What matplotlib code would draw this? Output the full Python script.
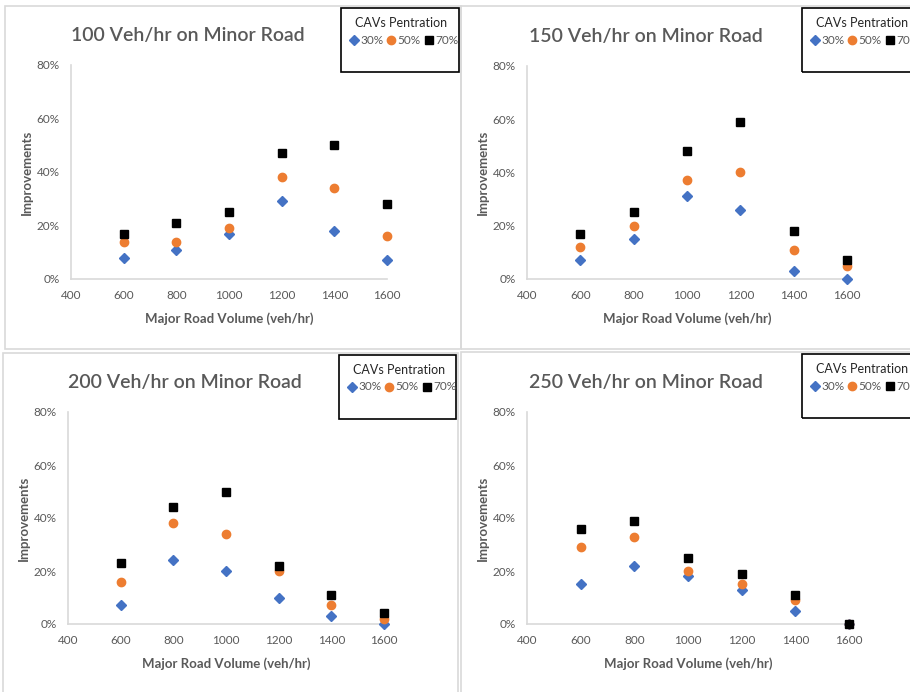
import matplotlib
matplotlib.use("Agg")
import matplotlib.pyplot as plt
from matplotlib.patches import Rectangle
from matplotlib.lines import Line2D
from matplotlib.ticker import PercentFormatter

plt.rcParams['font.family'] = ['Lato', 'DejaVu Sans']

W, H = 910, 692

volumes = [600, 800, 1000, 1200, 1400, 1600]
minor_flows = [100, 150, 200, 250]
pen_labels = ["30%", "50%", "70%"]

imp_100_30 = [0.08, 0.11, 0.17, 0.29, 0.18, 0.07]
imp_100_50 = [0.14, 0.14, 0.19, 0.38, 0.34, 0.16]
imp_100_70 = [0.17, 0.21, 0.25, 0.47, 0.50, 0.28]

imp_150_30 = [0.07, 0.15, 0.31, 0.26, 0.03, 0.00]
imp_150_50 = [0.12, 0.20, 0.37, 0.40, 0.11, 0.05]
imp_150_70 = [0.17, 0.25, 0.48, 0.59, 0.18, 0.07]

imp_200_30 = [0.07, 0.24, 0.20, 0.10, 0.03, 0.00]
imp_200_50 = [0.16, 0.38, 0.34, 0.20, 0.07, 0.02]
imp_200_70 = [0.23, 0.44, 0.50, 0.22, 0.11, 0.04]

imp_250_30 = [0.15, 0.22, 0.18, 0.13, 0.05, 0.00]
imp_250_50 = [0.29, 0.33, 0.20, 0.15, 0.09, 0.00]
imp_250_70 = [0.36, 0.39, 0.25, 0.19, 0.11, 0.00]

series = {
    100: [imp_100_30, imp_100_50, imp_100_70],
    150: [imp_150_30, imp_150_50, imp_150_70],
    200: [imp_200_30, imp_200_50, imp_200_70],
    250: [imp_250_30, imp_250_50, imp_250_70],
}

colors = ["#4472C4", "#ED7D31", "#000000"]
markers = ["D", "o", "s"]
msizes = [5.2, 6.0, 5.2]
grey = "#595959"

# pixel layout: panel border, plot area, legend box (left, top, right, bottom)
layout = {
    100: dict(panel=(5, 6, 461, 349), plot=(71, 65, 387, 279), leg=(341, 8, 459, 72)),
    150: dict(panel=(461, 6, 912, 349), plot=(527, 66, 847, 279), leg=(802, 8, 920, 72)),
    200: dict(panel=(3, 353, 458, 695), plot=(68, 412, 384, 624), leg=(339, 355, 456, 419)),
    250: dict(panel=(461, 352, 912, 695), plot=(527, 412, 849, 624), leg=(802, 354, 920, 418)),
}


def fx(px):
    return px / W


def fy(py):
    return 1 - py / H


fig = plt.figure(figsize=(W / 100, H / 100), dpi=100)

for flow in minor_flows:
    lay = layout[flow]
    l, t, r, b = lay["panel"]
    fig.patches.append(Rectangle((fx(l), fy(b)), fx(r - l), (b - t) / H,
                                 transform=fig.transFigure, fill=False,
                                 edgecolor="#D9D9D9", linewidth=1.2))

    l, t, r, b = lay["plot"]
    ax = fig.add_axes([fx(l), fy(b), fx(r - l), (b - t) / H])
    for vals, c, m, s in zip(series[flow], colors, markers, msizes):
        ax.plot(volumes, vals, linestyle="none", marker=m, color=c,
                markersize=s, clip_on=False, zorder=3)
    ax.set_xlim(400, 1600)
    ax.set_ylim(0, 0.8)
    ax.set_xticks(range(400, 1601, 200))
    ax.set_yticks([0, 0.2, 0.4, 0.6, 0.8])
    ax.yaxis.set_major_formatter(PercentFormatter(1.0, decimals=0))
    ax.tick_params(length=0, labelsize=8.5, labelcolor=grey, pad=8)
    for sp in ["top", "right"]:
        ax.spines[sp].set_visible(False)
    for sp in ["left", "bottom"]:
        ax.spines[sp].set_color("#D9D9D9")
        ax.spines[sp].set_linewidth(1.2)
    ax.set_xlabel("Major Road Volume (veh/hr)", fontsize=9.5, color=grey,
                  fontweight="bold", labelpad=8)
    ax.set_ylabel("Improvements", fontsize=9.5, color=grey,
                  fontweight="bold", labelpad=3)
    ax.set_title("%d Veh/hr on Minor Road" % flow, fontsize=14, color=grey,
                 fontweight="semibold", x=0.37, pad=17)

    # legend box
    l, t, r, b = lay["leg"]
    fig.patches.append(Rectangle((fx(l), fy(b)), fx(r - l), (b - t) / H,
                                 transform=fig.transFigure, fill=False,
                                 edgecolor="black", linewidth=1.2, clip_on=False))
    fig.text(fx(l + 60), fy(t + 15), "CAVs Pentration", ha="center", va="center",
             fontsize=9, color="#262626")
    offs = [13, 50, 88]
    for off, lab, c, m, s in zip(offs, pen_labels, colors, markers, msizes):
        fig.lines.append(Line2D([fx(l + off)], [fy(t + 32)], marker=m, color=c,
                                markersize=s, linestyle="none",
                                transform=fig.transFigure))
        fig.text(fx(l + off + 6), fy(t + 32), lab, ha="left", va="center",
                 fontsize=8.5, color=grey)

fig.savefig("out.png", dpi=100)
